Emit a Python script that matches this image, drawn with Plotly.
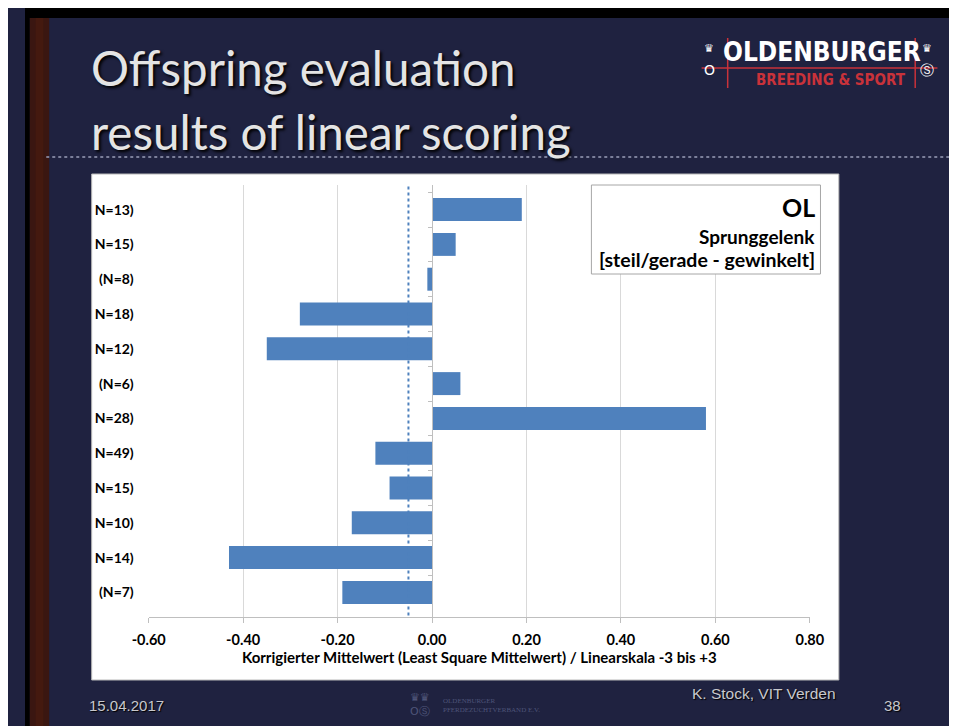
import plotly.graph_objects as go

# ---------------- data ----------------
categories = ["N=13)", "N=15)", "(N=8)", "N=18)", "N=12)", "(N=6)",
              "N=28)", "N=49)", "N=15)\u200b", "N=10)", "N=14)", "(N=7)"]
values = [0.19, 0.05, -0.01, -0.28, -0.35, 0.06,
          0.58, -0.12, -0.09, -0.17, -0.43, -0.19]
mean_value = -0.05
x_ticks = [-0.6, -0.4, -0.2, 0.0, 0.2, 0.4, 0.6, 0.8]
x_tick_labels = ["-0.60", "-0.40", "-0.20", "0.00", "0.20", "0.40", "0.60", "0.80"]
x_title = "Korrigierter Mittelwert (Least Square Mittelwert) / Linearskala -3 bis +3"
title_lines = ["Offspring evaluation", "results of linear scoring"]
box_lines = ["OL", "Sprunggelenk", "[steil/gerade - gewinkelt]"]
footer_date = "15.04.2017"
footer_author = "K. Stock, VIT Verden"
footer_page = "38"

# ---------------- layout helpers ----------------
W, H = 957, 726
def px(x):
    return x / W
def py(y):
    return 1 - y / H

NAVY = "#1F2240"
BAR = "#4F81BD"
XMIN, XMAX = -0.6, 0.8
dom_x = [px(128), px(812)]
dom_y = [py(609), py(177)]
zero_pos = dom_x[0] + (0 - XMIN) / (XMAX - XMIN) * (dom_x[1] - dom_x[0])

CHART_FONT = "Lato, 'Open Sans', Arial, sans-serif"

fig = go.Figure()
fig.add_trace(go.Bar(
    x=values, y=categories, orientation="h",
    marker=dict(color=BAR, line=dict(width=0)),
    width=0.66, hoverinfo="x+y", showlegend=False,
))
# helper trace for the vertical axis that crosses at 0 (tick marks only)
fig.add_trace(go.Scatter(
    x=values, y=categories, yaxis="y2", mode="markers",
    marker=dict(size=1, opacity=0), showlegend=False, hoverinfo="skip",
))

shapes = []
# black frame edges
shapes.append(dict(type="rect", xref="paper", yref="paper", x0=0, x1=1, y0=py(10), y1=1,
                   fillcolor="#000000", line=dict(width=0), layer="below"))
shapes.append(dict(type="rect", xref="paper", yref="paper", x0=0, x1=px(5), y0=0, y1=1,
                   fillcolor="#000000", line=dict(width=0), layer="below"))
# brown wooden strip
shapes.append(dict(type="rect", xref="paper", yref="paper", x0=px(5), x1=px(25), y0=0, y1=py(10),
                   fillcolor="#3A1611", line=dict(width=0), layer="below"))
shapes.append(dict(type="rect", xref="paper", yref="paper", x0=px(11), x1=px(19), y0=0, y1=py(10),
                   fillcolor="#44190F", line=dict(width=0), layer="below"))
# dotted separator line
shapes.append(dict(type="line", xref="paper", yref="paper", x0=px(22), x1=1, y0=py(149), y1=py(149),
                   line=dict(color="#9A9EB8", width=1.5, dash="dot"), layer="below"))
# white chart box
shapes.append(dict(type="rect", xref="paper", yref="paper", x0=px(69), x1=px(842), y0=py(672), y1=py(166),
                   fillcolor="#FFFFFF", line=dict(color="#B8B8B8", width=1), layer="below"))
# legend-like text box
shapes.append(dict(type="rect", xref="paper", yref="paper", x0=px(586), x1=px(823), y0=py(266), y1=py(177),
                   fillcolor="#FFFFFF", line=dict(color="#A6A6A6", width=1), layer="above"))
# mean dotted line
shapes.append(dict(type="line", xref="x", yref="paper", x0=mean_value, x1=mean_value,
                   y0=dom_y[0] + 0.002, y1=dom_y[1],
                   line=dict(color=BAR, width=2, dash="dot"), layer="above"))
# logo lines (red)
LOGO_RED = "#C9323A"
shapes.append(dict(type="line", xref="paper", yref="paper", x0=px(700), x1=px(944), y0=py(60), y1=py(60),
                   line=dict(color=LOGO_RED, width=1.5)))
shapes.append(dict(type="line", xref="paper", yref="paper", x0=px(727), x1=px(727), y0=py(80), y1=py(30),
                   line=dict(color=LOGO_RED, width=1.5)))
shapes.append(dict(type="line", xref="paper", yref="paper", x0=px(921), x1=px(921), y0=py(80), y1=py(30),
                   line=dict(color=LOGO_RED, width=1.5)))

ann = []
TITLE_FONT = "Lato, 'Open Sans', sans-serif"
for i, t in enumerate(title_lines):
    ann.append(dict(text=t, x=px(66), y=py(60 + i * 64), xref="paper", yref="paper",
                    xanchor="left", yanchor="middle", showarrow=False,
                    font=dict(family=TITLE_FONT, size=47.5, color="#E4E4E4",
                              shadow="2px 2px 3px #000000")))
# logo text
NARROW = "'DejaVu Sans Condensed', 'Liberation Sans Narrow', 'DejaVu Sans', sans-serif"
ann.append(dict(text="<b>OLDENBURGER</b>", x=px(825), y=py(44), xref="paper", yref="paper",
                xanchor="center", yanchor="middle", showarrow=False,
                font=dict(family=NARROW, size=26, color="#FFFFFF")))
ann.append(dict(text="<b>BREEDING &amp; SPORT</b>", x=px(914), y=py(72), xref="paper", yref="paper",
                xanchor="right", yanchor="middle", showarrow=False,
                font=dict(family=NARROW, size=15, color=LOGO_RED)))
for xc, sym in [(708, "O"), (933, "\u24C8")]:
    ann.append(dict(text="\u265B", x=px(xc), y=py(40), xref="paper", yref="paper",
                    xanchor="center", yanchor="middle", showarrow=False,
                    font=dict(family="DejaVu Sans", size=11, color="#FFFFFF")))
    ann.append(dict(text=sym, x=px(xc), y=py(62), xref="paper", yref="paper",
                    xanchor="center", yanchor="middle", showarrow=False,
                    font=dict(family="DejaVu Sans", size=14, color="#FFFFFF")))
# text box contents
box_sizes = [25, 19, 19.5]
box_ys = [199, 228, 252]
for t, s, yy in zip(box_lines, box_sizes, box_ys):
    ann.append(dict(text="<b>" + t + "</b>", x=px(819), y=py(yy), xref="paper", yref="paper",
                    xanchor="right", yanchor="middle", showarrow=False,
                    font=dict(family=CHART_FONT, size=s, color="#000000")))
# footer
FOOT_FONT = "'Liberation Sans Narrow', 'Liberation Sans', Arial, sans-serif"
FOOT_COLOR = "#C8C8CC"
ann.append(dict(text=footer_date, x=px(64), y=py(697), xref="paper", yref="paper",
                xanchor="left", yanchor="middle", showarrow=False,
                font=dict(family=FOOT_FONT, size=15, color=FOOT_COLOR, shadow="1px 1px 1px #000000")))
ann.append(dict(text=footer_author, x=px(841), y=py(685), xref="paper", yref="paper",
                xanchor="right", yanchor="middle", showarrow=False,
                font=dict(family=FOOT_FONT, size=15.5, color=FOOT_COLOR, shadow="1px 1px 1px #000000")))
ann.append(dict(text=footer_page, x=px(908), y=py(697), xref="paper", yref="paper",
                xanchor="right", yanchor="middle", showarrow=False,
                font=dict(family=FOOT_FONT, size=15, color=FOOT_COLOR, shadow="1px 1px 1px #000000")))
# faint center footer logo
ann.append(dict(text="OLDENBURGER<br>PFERDEZUCHTVERBAND E.V.", x=px(430), y=py(697), xref="paper", yref="paper",
                xanchor="left", yanchor="middle", showarrow=False, align="left",
                font=dict(family="'Liberation Serif', serif", size=7, color="#4E5478")))
ann.append(dict(text="\u265B\u265B<br>O\u24C8", x=px(409), y=py(696), xref="paper", yref="paper",
                xanchor="center", yanchor="middle", showarrow=False,
                font=dict(family="DejaVu Sans", size=11, color="#4E5478")))

fig.update_layout(
    width=W, height=H,
    margin=dict(l=0, r=0, t=0, b=0),
    paper_bgcolor=NAVY, plot_bgcolor="rgba(0,0,0,0)",
    shapes=shapes, annotations=ann,
    bargap=0.34,
    xaxis=dict(
        domain=dom_x, range=[XMIN, XMAX], tickvals=x_ticks, ticktext=x_tick_labels,
        showgrid=True, gridcolor="#D9D9D9", gridwidth=1, zeroline=False,
        showline=True, linecolor="#BFBFBF", linewidth=1,
        ticks="outside", ticklen=5, tickcolor="#BFBFBF", ticklabelstandoff=5,
        tickfont=dict(family=CHART_FONT, size=14.5, color="#000000", weight="bold"),
        title=dict(text="<b>" + x_title + "</b>", standoff=4,
                   font=dict(family=CHART_FONT, size=15, color="#000000")),
        fixedrange=True,
    ),
    yaxis=dict(
        domain=dom_y, autorange="reversed", type="category",
        showgrid=False, zeroline=False, showline=False,
        ticks="", ticklabelstandoff=14,
        tickfont=dict(family=CHART_FONT, size=14, color="#000000", weight="bold"),
        fixedrange=True,
    ),
    yaxis2=dict(
        overlaying="y", matches="y", anchor="free", position=zero_pos, side="left",
        type="category", showgrid=False, zeroline=False,
        showline=True, linecolor="#BFBFBF", linewidth=1,
        ticks="outside", tickson="boundaries", ticklen=4, tickcolor="#BFBFBF",
        showticklabels=False, fixedrange=True,
    ),
)

fig.write_html("out.html")
